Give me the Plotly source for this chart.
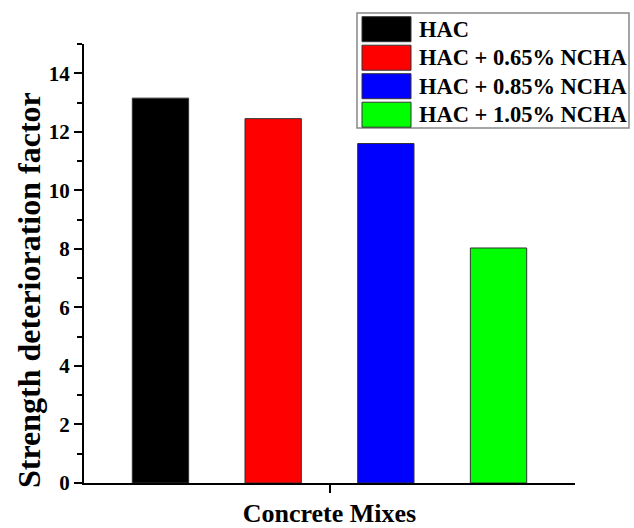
import plotly.graph_objects as go

# ---- data ----
series_names = ["HAC", "HAC + 0.65% NCHA", "HAC + 0.85% NCHA", "HAC + 1.05% NCHA"]
series_values = [13.15, 12.45, 11.6, 8.03]
series_colors = ["#000000", "#ff0000", "#0000ff", "#00ff00"]
x_category = ["Concrete Mixes"]
y_tick_vals = [0, 2, 4, 6, 8, 10, 12, 14]
y_title = "Strength deterioration factor"

FONT = "Liberation Serif, Times New Roman, serif"
W, H = 634, 528
L, R, T, B = 84, 59, 44, 45

fig = go.Figure()
for name, val, col in zip(series_names, series_values, series_colors):
    fig.add_trace(go.Bar(
        x=x_category, y=[val], name=name,
        marker=dict(color=col, line=dict(color="#333333", width=1)),
        showlegend=False,
    ))

# custom legend (large swatches like the original)
pw, ph = W - L - R, H - T - B
def px(x):
    return (x - L) / pw
def py(y):
    return (H - B - y) / ph

shapes = [dict(type="rect", xref="paper", yref="paper",
               x0=px(357), x1=px(629), y0=py(128), y1=py(13),
               line=dict(color="#888888", width=1.5), fillcolor="white", layer="above")]
annotations = []
row0, pitch = 16.7, 28.5
for i, (name, col) in enumerate(zip(series_names, series_colors)):
    top = row0 + i * pitch
    shapes.append(dict(type="rect", xref="paper", yref="paper",
                       x0=px(362), x1=px(411), y0=py(top + 25), y1=py(top),
                       line=dict(color="#333333", width=1), fillcolor=col, layer="above"))
    annotations.append(dict(xref="paper", yref="paper", x=px(417), y=py(top + 12.5),
                            text=name, showarrow=False, xanchor="left", yanchor="middle",
                            font=dict(family=FONT, size=22.5, color="black", weight="bold")))

# y-axis title (placed like the original, slightly below the axis centre)
annotations.append(dict(xref="paper", yref="paper", x=px(29), y=py(290),
                        text=y_title, textangle=-90, showarrow=False,
                        xanchor="center", yanchor="middle",
                        font=dict(family=FONT, size=32, color="black", weight="bold")))

fig.update_layout(
    width=W, height=H,
    margin=dict(l=L, r=R, t=T, b=B),
    paper_bgcolor="white", plot_bgcolor="white",
    barmode="group", bargap=0.082, bargroupgap=0.5,
    font=dict(family=FONT, color="black"),
    shapes=shapes, annotations=annotations,
    xaxis=dict(
        type="category", range=[-0.5, 0.5],
        showline=True, linecolor="black", linewidth=2,
        ticks="outside", ticklen=8, tickwidth=2, tickcolor="black",
        showticklabels=False, showgrid=False, automargin=False,
        title=dict(text="Concrete Mixes", standoff=12,
                   font=dict(family=FONT, size=26, color="black", weight="bold")),
    ),
    yaxis=dict(
        range=[0, 15], tickvals=y_tick_vals,
        showline=True, linecolor="black", linewidth=2,
        ticks="outside", ticklen=8, tickwidth=2, tickcolor="black",
        minor=dict(dtick=1, ticks="outside", ticklen=5, tickwidth=2, tickcolor="black"),
        showgrid=False, zeroline=False, automargin=False,
        tickfont=dict(family=FONT, size=21, color="black", weight="bold"),
    ),
)

fig.write_html("out.html", config={"displayModeBar": False},
               post_script="document.body.style.margin='0';")
